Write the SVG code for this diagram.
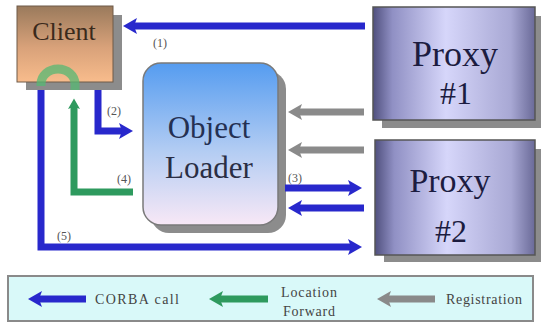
<svg xmlns="http://www.w3.org/2000/svg" width="541" height="326" viewBox="0 0 541 326">
  <defs>
    <linearGradient id="gClient" x1="0" y1="0" x2="0" y2="1">
      <stop offset="0" stop-color="#9a7a5c"/>
      <stop offset="0.55" stop-color="#d9a27a"/>
      <stop offset="1" stop-color="#f8bc8c"/>
    </linearGradient>
    <linearGradient id="gLoader" x1="0" y1="0" x2="0" y2="1">
      <stop offset="0" stop-color="#559cf0"/>
      <stop offset="0.55" stop-color="#b4cdf3"/>
      <stop offset="1" stop-color="#f8e8f6"/>
    </linearGradient>
    <linearGradient id="gProxy" x1="0" y1="0" x2="1" y2="0">
      <stop offset="0" stop-color="#50507e"/>
      <stop offset="0.12" stop-color="#9090c4"/>
      <stop offset="0.45" stop-color="#d6d6fa"/>
      <stop offset="0.85" stop-color="#a8a8d4"/>
      <stop offset="1" stop-color="#6a6a98"/>
    </linearGradient>
    <marker id="hBlue" viewBox="0 0 14 16" refX="4" refY="8" markerWidth="14" markerHeight="16" markerUnits="userSpaceOnUse" orient="auto">
      <path d="M0,0 L14,8 L0,16 L3,8 z" fill="#2828cc"/>
    </marker>
    <marker id="hGray" viewBox="0 0 14 16" refX="4" refY="8" markerWidth="14" markerHeight="16" markerUnits="userSpaceOnUse" orient="auto">
      <path d="M0,0 L14,8 L0,16 L3,8 z" fill="#8a8a8a"/>
    </marker>
    <marker id="hGreen" viewBox="0 0 14 16" refX="4" refY="8" markerWidth="12" markerHeight="12" markerUnits="userSpaceOnUse" orient="auto">
      <path d="M0,0 L14,8 L0,16 L3,8 z" fill="#2e9a5e"/>
    </marker>
    <marker id="hGreenL" viewBox="0 0 14 16" refX="4" refY="8" markerWidth="14" markerHeight="16" markerUnits="userSpaceOnUse" orient="auto">
      <path d="M0,0 L14,8 L0,16 L3,8 z" fill="#2e9a5e"/>
    </marker>
  </defs>
  <style>
    .shadow { fill: #8c8c8c; }
    .num { font-size: 12px; fill: #555; }
    .blue { fill: none; stroke: #2828cc; stroke-width: 7; marker-end: url(#hBlue); }
    .gray { fill: none; stroke: #8a8a8a; stroke-width: 7; marker-end: url(#hGray); }
    .green { fill: none; stroke: #2e9a5e; stroke-width: 7; marker-end: url(#hGreen); }
    .leg { font-size: 14px; fill: #444; }
  </style>
  <rect width="541" height="326" fill="#ffffff"/>

  <g font-family="Liberation Serif">
  <!-- Client -->
  <g id="client">
    <rect class="shadow" x="26" y="15" width="96" height="75"/>
    <rect x="17" y="6" width="96" height="76" fill="url(#gClient)" stroke="#6e5a48" stroke-width="1"/>
    <text x="64" y="40" font-size="26" fill="#3a2a1c" text-anchor="middle">Client</text>
  </g>

  <!-- Object Loader -->
  <g id="object-loader">
    <rect class="shadow" x="151" y="71" width="135" height="162" rx="18"/>
    <rect x="143" y="63" width="135" height="162" rx="18" fill="url(#gLoader)" stroke="#7a7a7a" stroke-width="1.5"/>
    <text x="209" y="138" font-size="31" fill="#243052" text-anchor="middle">Object</text>
    <text x="209" y="178" font-size="31" fill="#2a2e44" text-anchor="middle">Loader</text>
  </g>

  <!-- Proxy #1 -->
  <g id="proxy1">
    <rect class="shadow" x="382" y="16" width="159" height="112"/>
    <rect x="373" y="7" width="162" height="113" fill="url(#gProxy)" stroke="#555" stroke-width="1.5"/>
    <text x="455" y="66" font-size="36" fill="#1c1c40" text-anchor="middle">Proxy</text>
    <text x="456" y="104" font-size="32" fill="#1c1c40" text-anchor="middle">#1</text>
  </g>

  <!-- Proxy #2 -->
  <g id="proxy2">
    <rect class="shadow" x="384" y="149" width="157" height="113"/>
    <rect x="375" y="140" width="160" height="115" fill="url(#gProxy)" stroke="#555" stroke-width="1.5"/>
    <text x="450" y="192" font-size="34" fill="#1c1c40" text-anchor="middle">Proxy</text>
    <text x="451" y="242" font-size="32" fill="#1c1c40" text-anchor="middle">#2</text>
  </g>

  <!-- Connectors -->
  <g id="connectors">
    <!-- location-forward turnaround over the client -->
    <path d="M41,86 V84 A17,15 0 0 1 75,84 V90" fill="none" stroke="#55b873" stroke-width="9" opacity="0.75"/>
    <!-- (1) proxy #1 to client -->
    <path class="blue" d="M365,26 H133"/>
    <!-- (2) client to loader -->
    <path class="blue" d="M98,90 V131 H123"/>
    <!-- registrations -->
    <path class="gray" d="M364,112 H298"/>
    <path class="gray" d="M364,150 H298"/>
    <!-- (3) loader and proxy #2 -->
    <path class="blue" d="M285,188 H352"/>
    <path class="blue" d="M364,208 H298"/>
    <!-- (4) location forward back to client -->
    <path class="green" d="M133,192 H74 V106"/>
    <!-- (5) client to proxy #2 -->
    <path class="blue" d="M41,90 V247 H352"/>
    <text class="num" x="153" y="47">(1)</text>
    <text class="num" x="107" y="115">(2)</text>
    <text class="num" x="288" y="182">(3)</text>
    <text class="num" x="117" y="183">(4)</text>
    <text class="num" x="57" y="240">(5)</text>
  </g>

  <!-- Legend -->
  <g id="legend">
    <rect x="8" y="276" width="525" height="45" fill="#d9f9f9" stroke="#8a8a8a" stroke-width="2"/>
    <path class="blue" d="M86,299 H38"/>
    <text class="leg" x="95" y="304" textLength="84">CORBA call</text>
    <path class="green" d="M268,299 H219" style="marker-end:url(#hGreenL)"/>
    <text class="leg" x="281" y="297" textLength="56">Location</text>
    <text class="leg" x="283" y="316" textLength="52">Forward</text>
    <path class="gray" d="M435,299 H387"/>
    <text class="leg" x="446" y="304" textLength="76">Registration</text>
  </g>
  </g>
</svg>
